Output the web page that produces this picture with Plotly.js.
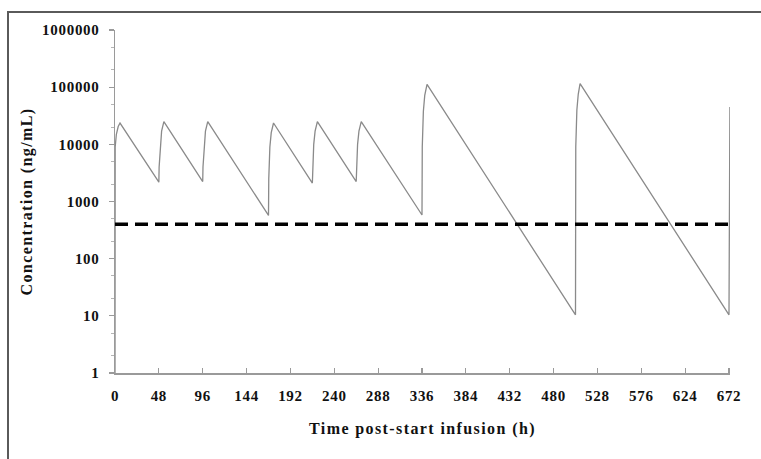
<!DOCTYPE html>
<html>
<head>
<meta charset="utf-8">
<script src="https://cdn.plot.ly/plotly-3.0.1.min.js"></script>
<style>
  html, body { margin: 0; padding: 0; background: #fff; }
  #wrap { position: relative; width: 761px; height: 459px; overflow: hidden; }
  #chart { width: 761px; height: 459px; }
  #frame { position: absolute; left: 7px; top: 11px; width: 800px; height: 500px;
           border-left: 2.5px solid #5a5a5a; border-top: 2.5px solid #5a5a5a; pointer-events: none; }
  #chart .xtick text, #chart .ytick text { letter-spacing: 0.7px; }
  #chart .g-xtitle text, #chart .g-ytitle text { letter-spacing: 1.4px; }
</style>
</head>
<body>
<div id="wrap">
  <div id="chart"></div>
  <div id="frame"></div>
</div>
<script>
// Time (h) post-start infusion
const timeH = [
  0, 0.2, 1.5, 3.5, 5.5,
  48, 48.3, 49.5, 51, 53.5,
  96, 96.3, 97.5, 99, 101.5,
  168, 168.3, 169.5, 171, 173.5,
  216, 216.3, 217.5, 219, 221.5,
  264, 264.3, 265.5, 267, 269.5,
  336, 336.3, 337.5, 339, 341.5,
  504, 504.3, 505.5, 507, 509,
  672, 672.4, 673
];
// Concentration (ng/mL)
const concentration = [
  1, 9000, 15000, 20500, 23600,
  2180, 4000, 10000, 17000, 25000,
  2230, 4000, 10000, 17000, 25000,
  570, 2500, 9000, 16000, 23600,
  2100, 4000, 10000, 17000, 25000,
  2230, 4000, 10000, 17000, 25000,
  580, 9000, 38000, 72000, 112000,
  10.4, 9000, 40000, 75000, 115000,
  10.4, 9000, 45000
];
// Target threshold (ng/mL)
const thresholdX = [0, 672];
const thresholdY = [400, 400];

const xTicks = [0, 48, 96, 144, 192, 240, 288, 336, 384, 432, 480, 528, 576, 624, 672];
const yTicks = [1, 10, 100, 1000, 10000, 100000, 1000000];
const yTickText = ["1", "10", "100", "1000", "10000", "100000", "1000000"];

const tickFont = { family: "Liberation Serif, Times New Roman, serif", size: 15, color: "#111", weight: "bold" };
const titleFont = { family: "Liberation Serif, Times New Roman, serif", size: 16, color: "#111", weight: "bold" };

const traces = [
  {
    x: timeH, y: concentration, type: "scatter", mode: "lines",
    line: { color: "#8a8a8a", width: 1.3 }, hoverinfo: "x+y", showlegend: false
  },
  {
    x: thresholdX, y: thresholdY, type: "scatter", mode: "lines",
    line: { color: "#000", width: 3.5, dash: "13px,7px" }, showlegend: false
  }
];

const layout = {
  width: 761, height: 459,
  margin: { l: 115, r: 30.7, t: 29.5, b: 85.7, pad: 0 },
  paper_bgcolor: "#fff", plot_bgcolor: "#fff",
  font: tickFont,
  showlegend: false,
  xaxis: {
    range: [0, 673.1], tickmode: "array", tickvals: xTicks, ticktext: xTicks.map(String),
    ticks: "inside", ticklen: 5, tickcolor: "#9a9a9a", tickwidth: 1.2,
    showline: true, linecolor: "#9a9a9a", linewidth: 1.5, showgrid: false, zeroline: false,
    tickfont: tickFont, ticklabelstandoff: 8,
    title: { text: "Time post-start infusion (h)", font: titleFont, standoff: 20 }
  },
  yaxis: {
    type: "log", range: [0, 6], tickmode: "array", tickvals: yTicks, ticktext: yTickText,
    ticks: "outside", ticklen: 5, tickcolor: "#9a9a9a", tickwidth: 1.2,
    showline: true, linecolor: "#9a9a9a", linewidth: 1.5, showgrid: false, zeroline: false,
    tickfont: tickFont, ticklabelstandoff: 6,
    minor: { ticks: "outside", ticklen: 3, tickcolor: "#b5b5b5", tickwidth: 1, showgrid: false },
    title: { text: "Concentration (ng/mL)", font: titleFont, standoff: 10 }
  }
};

Plotly.newPlot("chart", traces, layout, { displayModeBar: false, staticPlot: true });
</script>
</body>
</html>
